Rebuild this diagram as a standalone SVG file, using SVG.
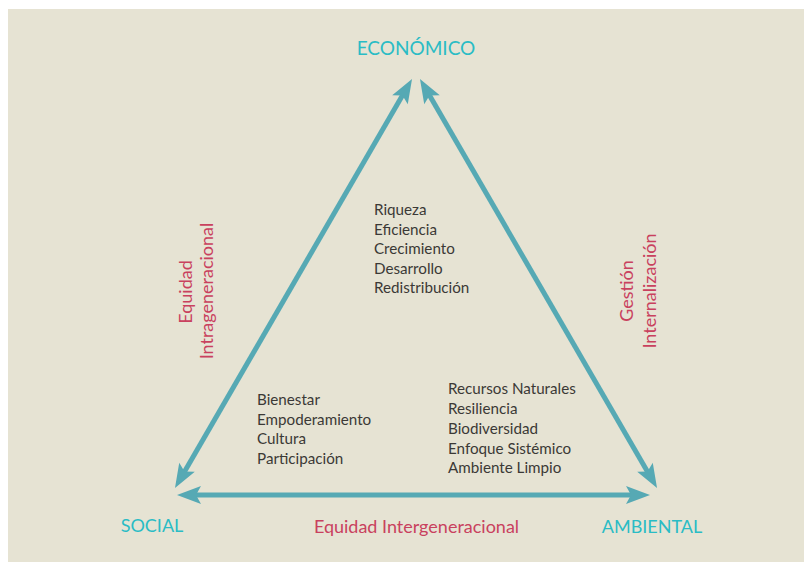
<svg xmlns="http://www.w3.org/2000/svg" width="804" height="562" viewBox="0 0 804 562">
<defs>
<style>
.bg{fill:#e6e3d3}
.conn{stroke:#56a9b4;stroke-width:5;fill:none;marker-start:url(#ah);marker-end:url(#ah)}
.pole{font-family:Lato,"Liberation Sans",sans-serif;font-size:18px;fill:#2abcc5}
.rel{font-family:Lato,"Liberation Sans",sans-serif;font-size:18px;fill:#c9415e}
.item{font-family:Lato,"Liberation Sans",sans-serif;font-size:15.2px;fill:#3b3936}
</style>
<marker id="ah" markerUnits="userSpaceOnUse" viewBox="0 0 24 20" refX="10" refY="10" markerWidth="24" markerHeight="20" orient="auto-start-reverse" overflow="visible">
<path d="M0,1 L24,10 L0,19 L5,10 Z" fill="#56a9b4"/>
</marker>
</defs>
<rect class="bg" x="8" y="9" width="796" height="553"/>
<g id="connectors">
<path class="conn" d="M405,91.1 L182,475.9"/>
<path class="conn" d="M427,91.1 L650,475.9"/>
<path class="conn" d="M191,495 L636,495"/>
</g>
<g id="economico"><text class="pole" x="416" y="55" text-anchor="middle" style="font-size:19px">ECONÓMICO</text></g>
<g id="social"><text class="pole" x="152" y="532" text-anchor="middle">SOCIAL</text></g>
<g id="ambiental"><text class="pole" x="652" y="533" text-anchor="middle">AMBIENTAL</text></g>
<g id="equidad-inter"><text class="rel" x="416.5" y="533" text-anchor="middle">Equidad Intergeneracional</text></g>
<g id="equidad-intra">
<text class="rel" transform="translate(192,292) rotate(-90)" text-anchor="middle">Equidad</text>
<text class="rel" transform="translate(213,291) rotate(-90)" text-anchor="middle">Intrageneracional</text>
</g>
<g id="gestion">
<text class="rel" transform="translate(633,291) rotate(-90)" text-anchor="middle">Gestión</text>
<text class="rel" transform="translate(656,291) rotate(-90)" text-anchor="middle">Internalización</text>
</g>
<g id="eco-items">
<text class="item" x="374" y="215">Riqueza</text>
<text class="item" x="374" y="234.5">Eficiencia</text>
<text class="item" x="374" y="254">Crecimiento</text>
<text class="item" x="374" y="273.5">Desarrollo</text>
<text class="item" x="374" y="293">Redistribución</text>
</g>
<g id="social-items">
<text class="item" x="257" y="405">Bienestar</text>
<text class="item" x="257" y="424.5">Empoderamiento</text>
<text class="item" x="257" y="444">Cultura</text>
<text class="item" x="257" y="463.5">Participación</text>
</g>
<g id="amb-items">
<text class="item" x="448" y="394">Recursos Naturales</text>
<text class="item" x="448" y="414">Resiliencia</text>
<text class="item" x="448" y="434">Biodiversidad</text>
<text class="item" x="448" y="454">Enfoque Sistémico</text>
<text class="item" x="448" y="473">Ambiente Limpio</text>
</g>
</svg>
